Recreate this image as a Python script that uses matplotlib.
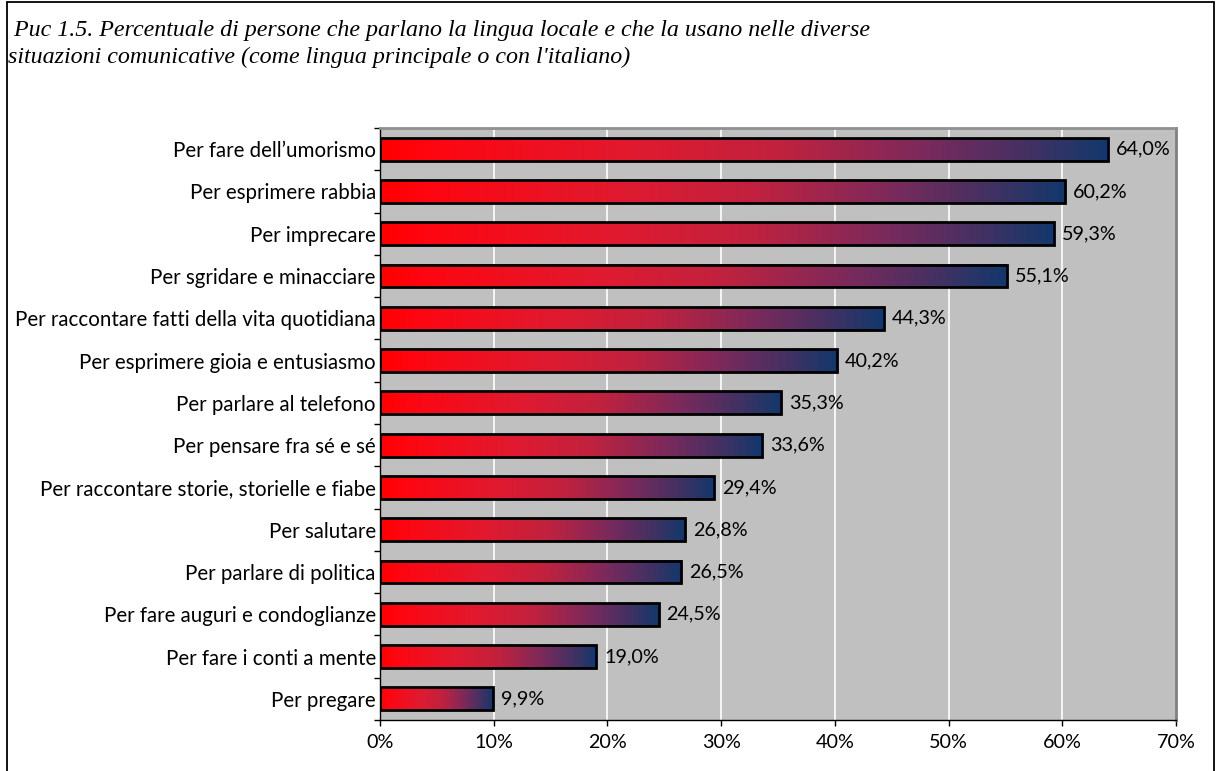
import numpy as np
import matplotlib.pyplot as plt
from matplotlib.colors import LinearSegmentedColormap
from matplotlib.patches import Rectangle
from matplotlib.ticker import FixedLocator, NullFormatter, PercentFormatter

categories = [
    "Per fare dell\u2019umorismo",
    "Per esprimere rabbia",
    "Per imprecare",
    "Per sgridare e minacciare",
    "Per raccontare fatti della vita quotidiana",
    "Per esprimere gioia e entusiasmo",
    "Per parlare al telefono",
    "Per pensare fra s\u00e9 e s\u00e9",
    "Per raccontare storie, storielle e fiabe",
    "Per salutare",
    "Per parlare di politica",
    "Per fare auguri e condoglianze",
    "Per fare i conti a mente",
    "Per pregare",
]
values = [64.0, 60.2, 59.3, 55.1, 44.3, 40.2, 35.3, 33.6, 29.4, 26.8, 26.5, 24.5, 19.0, 9.9]
value_labels = ["64,0%", "60,2%", "59,3%", "55,1%", "44,3%", "40,2%", "35,3%",
                "33,6%", "29,4%", "26,8%", "26,5%", "24,5%", "19,0%", "9,9%"]
x_ticks = [0, 10, 20, 30, 40, 50, 60, 70]

title = (" Puc 1.5. Percentuale di persone che parlano la lingua locale e che la usano nelle diverse\n"
         "situazioni comunicative (come lingua principale o con l'italiano)")

W, H, DPI = 1220, 771, 100
fig = plt.figure(figsize=(W / DPI, H / DPI), dpi=DPI)
fig.patch.set_facecolor("white")

# outer frame
frame = Rectangle((7 / W, -0.01), (1214 - 7) / W, 1 - 2 / H + 0.01, transform=fig.transFigure,
                  fill=False, edgecolor="black", linewidth=1.3)
fig.patches.append(frame)

fig.text(8 / W, 1 - 20 / H, title, ha="left", va="top", family="Liberation Serif",
         style="italic", fontsize=17.3, linespacing=1.38)

ax = fig.add_axes([380 / W, 1 - 720 / H, (1176 - 380) / W, (720 - 128) / H])
ax.set_facecolor("#C0C0C0")
n = len(categories)

for t in x_ticks[1:-1]:
    ax.axvline(t, color="white", linewidth=1.2, zorder=1)

cmap = LinearSegmentedColormap.from_list(
    "bar_grad",
    [(0.0, "#FF0000"), (0.06, "#FF0510"), (0.35, "#E01A30"), (0.55, "#C0223F"),
     (0.75, "#7A2A5C"), (0.9, "#3F3263"), (1.0, "#12386C")])
grad = np.linspace(0, 1, 256).reshape(1, -1)
bar_h = 0.54
LABEL_FONT = "Lato"
FS_CAT = 14.8
FS_VAL = 14.2

for i, v in enumerate(values):
    y0 = i - bar_h / 2
    ax.imshow(grad, cmap=cmap, aspect="auto", extent=(0, v, i + bar_h / 2, y0),
              zorder=2, interpolation="bilinear")
    ax.add_patch(Rectangle((0, y0), v, bar_h, fill=False, edgecolor="black",
                           linewidth=2, zorder=3))
    ax.text(v + 0.7, i, value_labels[i], va="center", ha="left", family=LABEL_FONT,
            fontsize=FS_VAL, color="black", zorder=4)

ax.set_xlim(0, 70)
ax.set_ylim(n - 0.5, -0.5)

ax.set_xticks(x_ticks)
ax.xaxis.set_major_formatter(PercentFormatter(decimals=0))
ax.set_yticks(range(n))
ax.set_yticklabels(categories)
ax.yaxis.set_minor_locator(FixedLocator(np.arange(-0.5, n, 1.0)))
ax.yaxis.set_minor_formatter(NullFormatter())
ax.tick_params(axis="y", which="major", length=0, pad=3)
ax.tick_params(axis="y", which="minor", length=4, width=1, direction="out", color="black")
ax.tick_params(axis="x", which="major", length=4, width=1, direction="out", pad=6)
for lab in ax.get_yticklabels():
    lab.set_family(LABEL_FONT)
    lab.set_fontsize(FS_CAT)
for lab in ax.get_xticklabels():
    lab.set_family(LABEL_FONT)
    lab.set_fontsize(FS_VAL)

ax.spines["left"].set_color("black")
ax.spines["bottom"].set_color("black")
ax.spines["top"].set_color("#909090")
ax.spines["right"].set_color("#808080")
ax.spines["top"].set_linewidth(2)
ax.spines["right"].set_linewidth(2)
ax.spines["left"].set_linewidth(1)
ax.spines["bottom"].set_linewidth(1)

fig.savefig("out.png", dpi=DPI, facecolor="white")
